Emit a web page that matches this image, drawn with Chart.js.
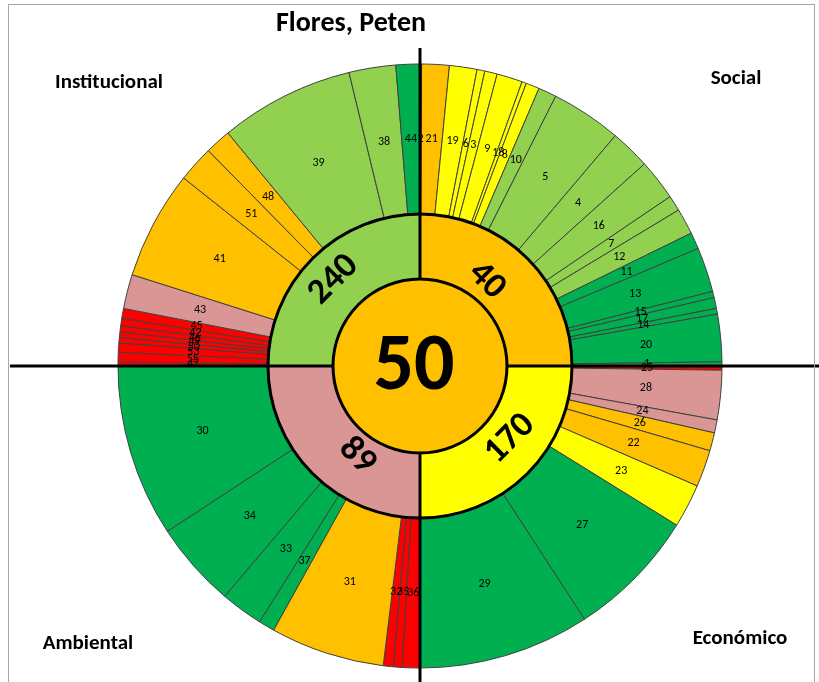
<!DOCTYPE html>
<html>
<head>
<meta charset="utf-8">
<script src="https://cdn.jsdelivr.net/npm/chart.js@4.4.1/dist/chart.umd.min.js"></script>
<style>
  html, body { margin: 0; padding: 0; background: #fff; }
  #wrap { position: relative; width: 819px; height: 682px; }
</style>
</head>
<body>
<div id="wrap"><canvas id="sunburst" width="819" height="682"></canvas></div>
<script>
// outer ring, one block per dimension, clockwise from 12 o'clock
// values are slice sizes (each dimension adds up to 90)
const socialIds = [2, 21, 19, 6, 3, 9, 18, 8, 10, 5, 4, 16, 7, 12, 11, 13, 15, 17, 14, 20, 1];
const socialVals = [0.3, 5.3, 5.3, 1.5, 2.4, 4.95, 0.85, 2.6, 3.5, 13.6, 7.7, 7.9, 3.0, 5.0, 3.2, 8.6, 1.2, 2.1, 1.1, 9.1, 0.8];
const socialLevels = ["R", "O", "Y", "Y", "Y", "Y", "Y", "Y", "LG", "LG", "LG", "LG", "LG", "LG", "G", "G", "G", "G", "G", "G", "G"];

const economicoIds = [25, 28, 24, 26, 22, 23, 27, 29];
const economicoVals = [0.8, 9.5, 2.5, 3.5, 7.1, 8.4, 25.2, 33.0];
const economicoLevels = ["R", "P", "P", "O", "O", "Y", "G", "G"];

const ambientalIds = [36, 35, 32, 31, 37, 33, 34, 30];
const ambientalVals = [3.4, 1.7, 1.9, 22.0, 3.1, 8.2, 16.5, 33.2];
const ambientalLevels = ["R", "R", "R", "O", "G", "G", "G", "G"];

const institucionalIds = [47, 55, 53, 50, 49, 46, 42, 45, 43, 41, 51, 48, 39, 38, 44];
const institucionalVals = [0.8, 1.8, 1.8, 1.05, 1.05, 1.2, 1.4, 1.9, 6.6, 20.9, 7.0, 5.0, 25.9, 9.0, 4.6];
const institucionalLevels = ["R", "R", "R", "R", "R", "R", "R", "R", "P", "O", "O", "O", "LG", "LG", "G"];

// middle ring: the four dimensions
const dimNames = ["Social", "Económico", "Ambiental", "Institucional"];
const dimScores = [40, 170, 89, 240];
const dimLevels = ["O", "Y", "P", "LG"];

// centre
const totalScore = 50;
const totalLevel = "O";

const palette = {
  G: "#00B050",
  LG: "#92D050",
  Y: "#FFFF00",
  O: "#FFC000",
  R: "#FF0000",
  P: "#DA9694",
};

const outerIds = [].concat(socialIds, economicoIds, ambientalIds, institucionalIds);
const outerVals = [].concat(socialVals, economicoVals, ambientalVals, institucionalVals);
const outerLevels = [].concat(socialLevels, economicoLevels, ambientalLevels, institucionalLevels);

const FONT = "Carlito, Lato, 'Open Sans', sans-serif";

// where the dimension scores sit (angle nudge in degrees, radius from centre)
const dimLabelNudge = [
  { da: -7, r: 108 },
  { da: -6, r: 116 },
  { da: -10, r: 110 },
  { da: 0, r: 122 },
];

const overlay = {
  id: "overlay",
  afterDatasetsDraw(chart) {
    const ctx = chart.ctx;
    const outer = chart.getDatasetMeta(0).data;
    const mid = chart.getDatasetMeta(1).data;
    const core = chart.getDatasetMeta(2).data[0];
    ctx.save();

    // numbers of the indicators
    ctx.fillStyle = "#000";
    ctx.textAlign = "center";
    ctx.textBaseline = "middle";
    ctx.font = "12px " + FONT;
    outer.forEach((arc, i) => {
      const a = (arc.startAngle + arc.endAngle) / 2;
      const r = (arc.innerRadius + arc.outerRadius) / 2;
      ctx.fillText(outerIds[i], arc.x + Math.cos(a) * r, arc.y + Math.sin(a) * r);
    });

    // cross axes
    ctx.strokeStyle = "#000";
    ctx.lineWidth = 3;
    ctx.beginPath();
    ctx.moveTo(10, core.y);
    ctx.lineTo(819, core.y);
    ctx.moveTo(core.x, 48);
    ctx.lineTo(core.x, 682);
    ctx.stroke();

    // centre disc drawn again above the axes
    core.draw(ctx);

    // thick rings
    const m0 = mid[0];
    ctx.lineWidth = 3;
    [m0.outerRadius, m0.innerRadius].forEach((r) => {
      ctx.beginPath();
      ctx.arc(m0.x, m0.y, r, 0, Math.PI * 2);
      ctx.stroke();
    });

    // dimension scores, written along the ring
    ctx.fillStyle = "#000";
    ctx.font = "bold 36px " + FONT;
    mid.forEach((arc, i) => {
      const a = (arc.startAngle + arc.endAngle) / 2 + (dimLabelNudge[i].da * Math.PI) / 180;
      const r = dimLabelNudge[i].r;
      let rot = (arc.startAngle + arc.endAngle) / 2 + Math.PI / 2;
      while (rot > Math.PI / 2) rot -= Math.PI;
      while (rot < -Math.PI / 2) rot += Math.PI;
      ctx.save();
      ctx.translate(arc.x + Math.cos(a) * r, arc.y + Math.sin(a) * r);
      ctx.rotate(rot);
      ctx.fillText(dimScores[i], 0, 0);
      ctx.restore();
    });

    // centre score
    ctx.font = "bold 80px " + FONT;
    ctx.fillText(totalScore, core.x - 6, core.y + 3);

    ctx.restore();
  },
  afterDraw(chart) {
    const ctx = chart.ctx;
    ctx.save();
    // frame
    ctx.strokeStyle = "#a6a6a6";
    ctx.lineWidth = 1;
    ctx.strokeRect(8.5, 4.5, 806, 700);

    ctx.fillStyle = "#000";
    ctx.textAlign = "center";
    ctx.textBaseline = "middle";
    ctx.font = "bold 28px " + FONT;
    ctx.fillText("Flores, Peten", 351, 24);

    ctx.font = "bold 21px " + FONT;
    ctx.fillText(dimNames[3], 109, 83);
    ctx.fillText(dimNames[0], 736, 79);
    ctx.fillText(dimNames[2], 88, 644);
    ctx.fillText(dimNames[1], 740, 639);
    ctx.restore();
  },
};

new Chart(document.getElementById("sunburst"), {
  type: "doughnut",
  data: {
    labels: outerIds,
    datasets: [
      {
        label: "Indicadores",
        data: outerVals,
        backgroundColor: outerLevels.map((l) => palette[l]),
        borderColor: "#404040",
        borderWidth: 1,
        weight: 150,
      },
      {
        label: "Dimensiones",
        data: dimScores.map(() => 90),
        backgroundColor: dimLevels.map((l) => palette[l]),
        borderWidth: 0,
        weight: 65,
      },
      {
        label: "Total",
        data: [360],
        backgroundColor: [palette[totalLevel]],
        borderWidth: 0,
        weight: 87,
      },
    ],
  },
  options: {
    responsive: false,
    animation: false,
    events: [],
    cutout: 0,
    radius: 302,
    layout: { padding: { left: 21, right: 0, top: 50, bottom: 0 } },
    plugins: {
      legend: { display: false },
      title: { display: false },
      tooltip: { enabled: false },
    },
  },
  plugins: [overlay],
});
</script>
</body>
</html>
